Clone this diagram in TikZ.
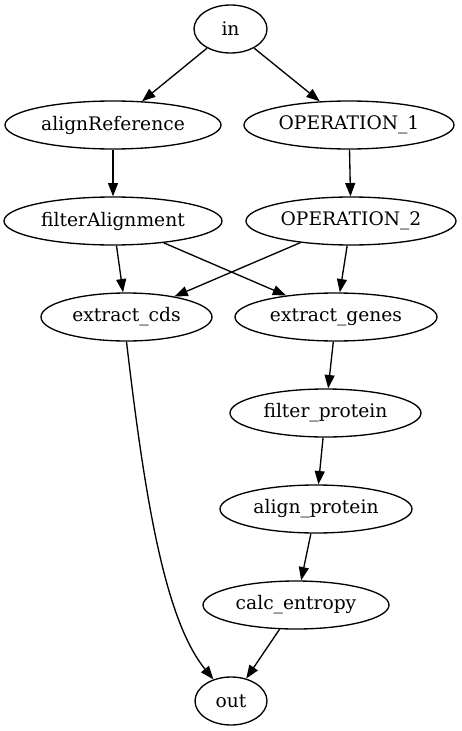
\documentclass[tikz,border=0pt]{standalone}
\usepackage{fontspec}
\setmainfont{DejaVu Serif}
\usetikzlibrary{shapes.geometric,arrows.meta}
\begin{document}
\begin{tikzpicture}[x=0.75pt,y=-0.75pt,
  nd/.style={draw,ellipse,line width=1pt,inner sep=0pt,minimum height=36pt,font=\fontsize{14pt}{16pt}\selectfont},
  ar/.style={line width=1pt,-{Triangle[length=10pt,width=7.5pt]}}]
\useasboundingbox (0,0) rectangle (461,731);
\node[nd,minimum width=54.75pt] (in) at (230.5,29) {in};
\node[nd,minimum width=162pt] (aref) at (113,125) {alignReference};
\node[nd,minimum width=157.5pt] (op1) at (349,125) {OPERATION\_1};
\node[nd,minimum width=163.5pt] (falign) at (113,221) {filterAlignment};
\node[nd,minimum width=157.5pt] (op2) at (351,221) {OPERATION\_2};
\node[nd,minimum width=128.25pt] (ecds) at (126.5,317) {extract\_cds};
\node[nd,minimum width=151.5pt] (egenes) at (336,317) {extract\_genes};
\node[nd,minimum width=143.25pt] (fprot) at (325.5,413) {filter\_protein};
\node[nd,minimum width=144pt] (aprot) at (316,509) {align\_protein};
\node[nd,minimum width=139.5pt] (calc) at (296,605) {calc\_entropy};
\node[nd,minimum width=54pt] (out) at (231,701) {out};
\draw[ar] (in) -- (aref);
\draw[ar] (in) -- (op1);
\draw[ar] (aref) -- (falign);
\draw[ar] (op1) -- (op2);
\draw[ar] (falign) -- (ecds);
\draw[ar] (falign) -- (egenes);
\draw[ar] (op2) -- (ecds);
\draw[ar] (op2) -- (egenes);
\draw[ar] (egenes) -- (fprot);
\draw[ar] (fprot) -- (aprot);
\draw[ar] (aprot) -- (calc);
\draw[ar] (calc) -- (out);
\draw[ar] (ecds.south) .. controls (145,500) and (165,620) .. (out);
\end{tikzpicture}
\end{document}
